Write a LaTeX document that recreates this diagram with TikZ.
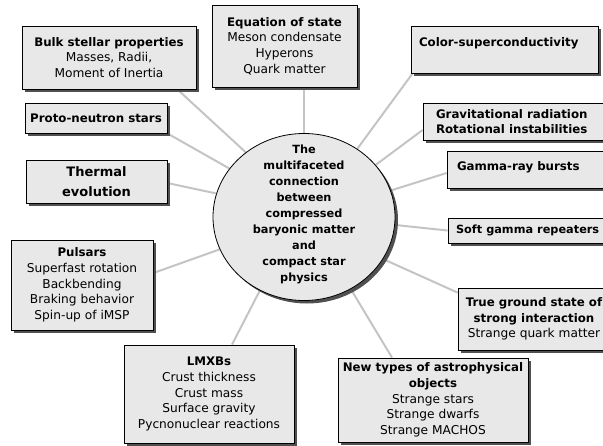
\documentclass[tikz,border=0pt]{standalone}
\usepackage{fontspec}
\setmainfont{DejaVu Sans}
\usetikzlibrary{shapes.geometric,shadows,backgrounds}
\definecolor{boxfill}{HTML}{E8E8E8}
\definecolor{shadowgray}{HTML}{505050}
\definecolor{linkgray}{HTML}{C4C4C4}
\newcommand\hd[1]{{\fontsize{11.8}{15.7}\selectfont\bfseries #1}}
\begin{document}
\begin{tikzpicture}[x=1pt,y=-1pt,
  box/.style={draw=black, line width=0.8pt, fill=boxfill,
    drop shadow={shadow xshift=3pt, shadow yshift=-3pt, fill=shadowgray, opacity=1},
    inner sep=0pt, align=center, font=\fontsize{12.2}{15.7}\selectfont},
  lbox/.style={box, align=left},
  hub/.style={ellipse, draw=black, line width=0.8pt, fill=boxfill,
    drop shadow={shadow xshift=3pt, shadow yshift=-3pt, fill=shadowgray, opacity=1},
    inner sep=0pt, minimum width=182pt, minimum height=167pt},
  hubtext/.style={inner sep=0pt, align=center, font=\bfseries\fontsize{11.3}{16}\selectfont},
  link/.style={draw=linkgray, line width=2pt}]
\useasboundingbox (0,0) rectangle (603,445);

\node[hub] (c) at (304,217) {};
\node[hubtext] (ct) at (304,214) {The\\multifaceted\\connection\\between\\compressed\\baryonic matter\\and\\compact star\\physics};

\node[box, minimum width=174pt, minimum height=63pt] (b1) at (109,57.5)
  {\hd{Bulk stellar properties}\\Masses, Radii,\\Moment of Inertia};
\node[box, minimum width=145pt, minimum height=82pt] (b2) at (284.5,46)
  {\hd{Equation of state}\\Meson condensate\\Hyperons\\Quark matter};
\node[lbox, minimum width=187pt, minimum height=47pt, text width=171pt, text depth=14pt] (b3) at (504.5,49.5)
  {\hd{Color-superconductivity}};
\node[lbox, minimum width=180pt, minimum height=37pt, text width=154pt] (b4) at (513,121.5)
  {\hd{Gravitational radiation}\\\hd{Rotational instabilities}};
\node[lbox, minimum width=170pt, minimum height=37pt, text width=150pt, text depth=6pt] (b5) at (532,169.5)
  {\hd{Gamma-ray bursts}};
\node[lbox, minimum width=176pt, minimum height=25pt, text width=160pt] (b6) at (536,230.5)
  {\mbox{\fontsize{11.3}{15}\selectfont\bfseries Soft gamma repeaters}};
\node[box, minimum width=152pt, minimum height=62pt] (b7) at (534,319)
  {\hd{True ground state of}\\\hd{strong interaction}\\Strange quark matter};
\node[box, minimum width=190pt, minimum height=84pt] (b8) at (433,400)
  {\hd{New types of astrophysical}\\\hd{objects}\\Strange stars\\Strange dwarfs\\Strange MACHOS};
\node[box, minimum width=170pt, minimum height=98pt] (b9) at (209,394)
  {\hd{LMXBs}\\Crust thickness\\Crust mass\\Surface gravity\\Pycnonuclear reactions};
\node[box, minimum width=142pt, minimum height=90pt] (b10) at (82,285)
  {\hd{Pulsars}\\Superfast rotation\\Backbending\\Braking behavior\\Spin-up of iMSP};
\node[box, minimum width=141pt, minimum height=43pt, font=\bfseries\fontsize{13}{20}\selectfont] (b11) at (96.5,181.5)
  {Thermal\\evolution};
\node[box, minimum width=142pt, minimum height=30pt] (b12) at (96,118)
  {\hd{Proto-neutron stars}};

\begin{pgfonlayer}{background}
\draw[link] (c.132) -- ([xshift=-19pt]b1.south east);
\draw[link] (c.90) -- ([xshift=19.5pt]b2.south);
\draw[link] (c.52) -- ([xshift=2pt]b3.south west);
\draw[link] (c.36) -- ([yshift=-8.5pt]b4.west);
\draw[link] (c.17) -- ([yshift=-3.5pt]b5.west);
\draw[link] (c.-5) -- (b6.west);
\draw[link] (c.-28) -- ([yshift=-5pt]b7.north west);
\draw[link] (c.-57) -- ([xshift=-41pt]b8.north);
\draw[link] (c.-121) -- ([xshift=23pt]b9.north);
\draw[link] (c.-159) -- ([yshift=12pt]b10.east);
\draw[link] (c.165) -- ([yshift=-1.5pt]b11.east);
\draw[link] (c.147) -- (b12.south east);
\end{pgfonlayer}
\end{tikzpicture}
\end{document}
